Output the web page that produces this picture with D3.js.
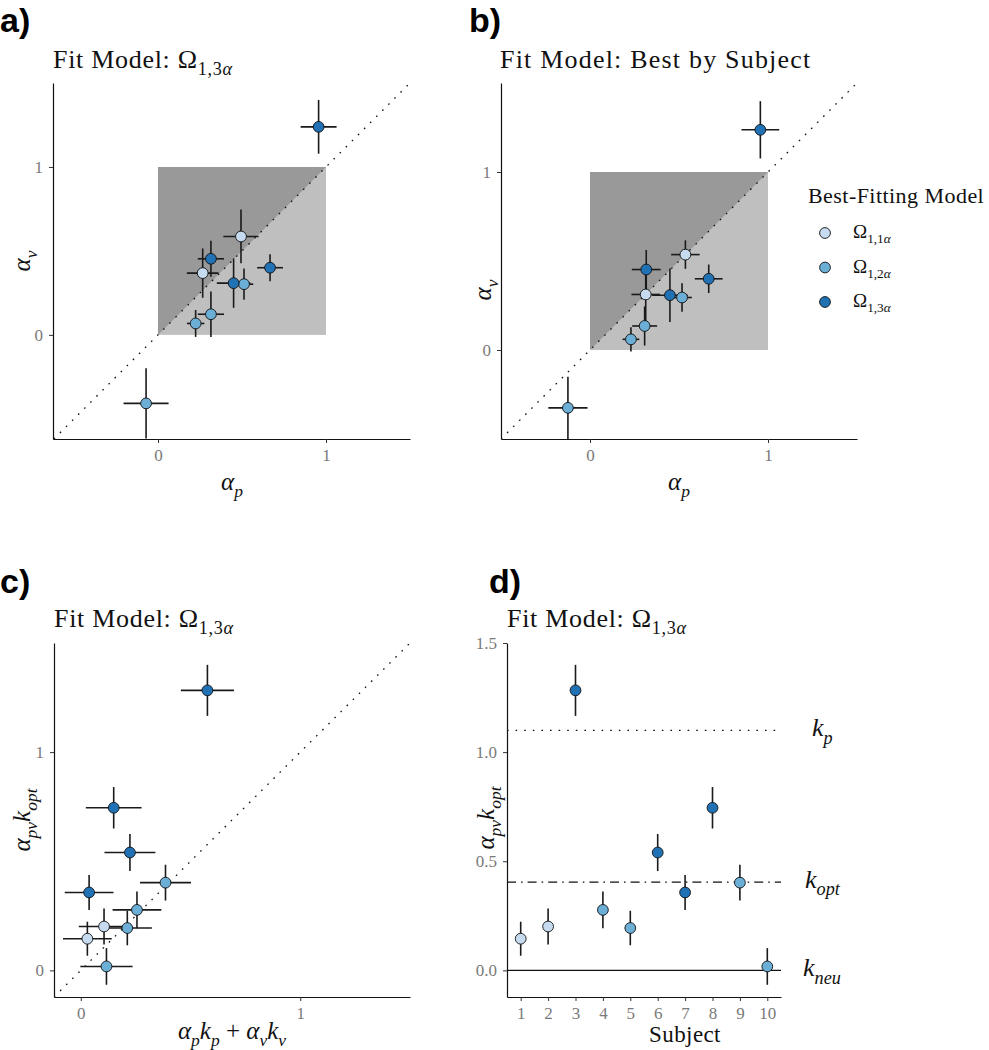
<!DOCTYPE html>
<html><head><meta charset="utf-8">
<script src="https://cdn.jsdelivr.net/npm/d3@7"></script>
<style>body{margin:0;background:#fff} svg{display:block}</style>
</head><body>
<svg id="chart" width="989" height="1050"></svg>
<script>
// ---------------- DATA ----------------
const subjects   = [1, 2, 3, 4, 5, 6, 7, 8, 9, 10];
const bestModel  = [1, 1, 3, 2, 2, 3, 3, 3, 2, 2];          // index into modelLabels (1-based)
const modelLabels = ["1,1", "1,2", "1,3"];
const modelColors = ["#c6dbef", "#6baed6", "#2171b5"];

// panel a: fit model Omega_{1,3alpha}
const aAlphaP    = [0.266, 0.494, 0.956, 0.512, 0.315, 0.315, 0.450, 0.667, 0.224, -0.071];
const aAlphaPErr = [0.094, 0.105, 0.107, 0.055, 0.078, 0.078, 0.100, 0.077, 0.052, 0.134];
const aAlphaV    = [0.368, 0.586, 1.239, 0.302, 0.123, 0.453, 0.308, 0.400, 0.068, -0.408];
const aAlphaVErr = [0.147, 0.160, 0.160, 0.093, 0.135, 0.107, 0.147, 0.080, 0.080, 0.209];

// panel b: best model by subject
const bAlphaP    = [0.313, 0.536, 0.957, 0.517, 0.307, 0.316, 0.449, 0.667, 0.230, -0.124];
const bAlphaPErr = [0.080, 0.080, 0.106, 0.055, 0.070, 0.081, 0.100, 0.078, 0.047, 0.110];
const bAlphaV    = [0.312, 0.536, 1.237, 0.295, 0.135, 0.452, 0.308, 0.400, 0.060, -0.325];
const bAlphaVErr = [0.150, 0.080, 0.161, 0.080, 0.110, 0.110, 0.150, 0.080, 0.068, 0.175];

// panel c / d
const cCombined    = [0.030, 0.106, 0.577, 0.256, 0.212, 0.224, 0.038, 0.150, 0.386, 0.117];
const cCombinedErr = [0.111, 0.115, 0.121, 0.111, 0.112, 0.116, 0.111, 0.127, 0.116, 0.119];
const kOpt         = [0.145, 0.201, 1.283, 0.277, 0.194, 0.540, 0.357, 0.745, 0.402, 0.018];
const kOptErr      = [0.078, 0.082, 0.117, 0.084, 0.079, 0.085, 0.080, 0.095, 0.082, 0.084];

// reference lines in panel d
const refNames  = ["p", "opt", "neu"];
const refValues = [1.1, 0.404, 0];
const refDash   = ["1.6 7", "9 5 1.6 5", null];

// tick labels
const alphaTicks = [0, 1];
const dYTicks    = [0, 0.5, 1.0, 1.5];
const dYTickLabels = ["0.0", "0.5", "1.0", "1.5"];

// ---------------- DRAWING ----------------
const svg = d3.select("#chart");
const SERIF = "'Liberation Serif','Times New Roman',serif";
const TICKCOL = "#7a7a7a";

// math-ish text: parts = [[text, style]] style: n normal, i italic, s sub, si sub italic
function mathText(g, x, y, parts, size, opts = {}) {
  const t = g.append("text").attr("x", x).attr("y", y)
    .attr("font-family", SERIF).attr("font-size", size).attr("fill", opts.fill || "#111")
    .attr("text-anchor", opts.anchor || "start")
    .attr("letter-spacing", opts.ls || 0);
  if (opts.rotate) t.attr("transform", `rotate(-90,${x},${y})`);
  let inSub = false;
  const shift = size * 0.28;
  parts.forEach(([txt, st]) => {
    const sub = st.startsWith("s");
    const it = st.endsWith("i");
    const ts = t.append("tspan").text(txt)
      .attr("font-style", it ? "italic" : "normal")
      .attr("font-size", sub ? size * 0.7 : size);
    if (sub && !inSub) ts.attr("dy", shift);
    if (!sub && inSub) ts.attr("dy", -shift);
    inSub = sub;
  });
  return t;
}

function styleAxis(ax) {
  ax.select(".domain").attr("stroke", "#111").attr("stroke-width", 1.2);
  ax.selectAll(".tick line").attr("stroke", "#333").attr("stroke-width", 1);
  ax.selectAll(".tick text").attr("fill", TICKCOL).attr("font-family", SERIF).attr("font-size", 17);
}

let clipN = 0;
function scatterPanel(cfg) {
  const g = svg.append("g");
  const x = d3.scaleLinear().domain(cfg.xd).range([cfg.x0, cfg.x1]);
  const y = d3.scaleLinear().domain(cfg.yd).range([cfg.y0, cfg.y1]);
  const id = "clip" + (clipN++);
  svg.append("clipPath").attr("id", id).append("rect")
    .attr("x", cfg.x0).attr("y", cfg.y1).attr("width", cfg.x1 - cfg.x0).attr("height", cfg.y0 - cfg.y1);
  const pg = g.append("g").attr("clip-path", `url(#${id})`);

  if (cfg.shade) {
    pg.append("rect").attr("x", x(0)).attr("y", y(1)).attr("width", x(1) - x(0)).attr("height", y(0) - y(1))
      .attr("fill", "#bfbfbf");
    pg.append("path").attr("d", d3.line()([[x(0), y(0)], [x(0), y(1)], [x(1), y(1)]]) + "Z")
      .attr("fill", "#999999");
  }
  if (cfg.diag) {
    const lo = Math.max(cfg.xd[0], cfg.yd[0]), hi = Math.min(cfg.xd[1], cfg.yd[1]);
    pg.append("line").attr("x1", x(lo)).attr("y1", y(lo)).attr("x2", x(hi)).attr("y2", y(hi))
      .attr("stroke", "#111").attr("stroke-width", 1.3).attr("stroke-dasharray", "1.6 7");
  }
  if (cfg.hlines) {
    cfg.hlines.forEach(h => {
      const l = pg.append("line").attr("x1", cfg.x0).attr("x2", cfg.x1)
        .attr("y1", y(h.v)).attr("y2", y(h.v)).attr("stroke", "#111").attr("stroke-width", 1.3);
      if (h.dash) l.attr("stroke-dasharray", h.dash);
    });
  }
  const pts = cfg.data;
  pts.forEach(d => {
    if (d.xe != null) pg.append("line").attr("x1", x(d.x - d.xe)).attr("x2", x(d.x + d.xe))
      .attr("y1", y(d.y)).attr("y2", y(d.y)).attr("stroke", "#1a1a1a").attr("stroke-width", 1.6);
    pg.append("line").attr("x1", x(d.x)).attr("x2", x(d.x))
      .attr("y1", y(d.y - d.ye)).attr("y2", y(d.y + d.ye)).attr("stroke", "#1a1a1a").attr("stroke-width", 1.6);
  });
  pts.forEach(d => {
    pg.append("circle").attr("cx", x(d.x)).attr("cy", y(d.y)).attr("r", 5.4)
      .attr("fill", modelColors[d.m - 1]).attr("stroke", "#111").attr("stroke-width", 0.9);
  });

  const xa = g.append("g").attr("transform", `translate(0,${cfg.y0})`)
    .call(d3.axisBottom(x).tickValues(cfg.xt).tickFormat(cfg.xf || d3.format("d")).tickSize(4).tickPadding(6).tickSizeOuter(0));
  const ya = g.append("g").attr("transform", `translate(${cfg.x0},0)`)
    .call(d3.axisLeft(y).tickValues(cfg.yt).tickFormat(cfg.yf || d3.format("d")).tickSize(4).tickPadding(6).tickSizeOuter(0));
  styleAxis(xa); styleAxis(ya);
  return {x, y, g};
}

const mk = (xs, xes, ys, yes) => subjects.map((s, i) => ({s, x: xs[i], xe: xes ? xes[i] : null, y: ys[i], ye: yes[i], m: bestModel[i]}));

// panel labels
[["a)", 0, 32], ["b)", 469, 32], ["c)", 0, 593], ["d)", 489, 593]].forEach(([t, x, y]) =>
  svg.append("text").attr("x", x).attr("y", y).text(t)
    .attr("font-family", "'Liberation Sans',Arial,sans-serif").attr("font-weight", "bold").attr("font-size", 34).attr("fill", "#000"));

const titleParts = [["Fit Model: ", "n"], ["Ω", "n"], ["1,3", "s"], ["α", "si"]];

// ---- Panel a
scatterPanel({xd: [-0.625, 1.5], yd: [-0.62, 1.5], x0: 53, x1: 410, y0: 439, y1: 83,
  shade: true, diag: true, xt: alphaTicks, yt: alphaTicks, data: mk(aAlphaP, aAlphaPErr, aAlphaV, aAlphaVErr)});
mathText(svg, 53, 68, titleParts, 26, {ls: 0.7});
mathText(svg, 232, 490, [["α", "i"], ["p", "si"]], 25, {anchor: "middle"});
mathText(svg, 30, 261, [["α", "i"], ["v", "si"]], 25, {anchor: "middle", rotate: true});

// ---- Panel b
scatterPanel({xd: [-0.5, 1.5], yd: [-0.5, 1.5], x0: 501, x1: 857, y0: 439, y1: 83,
  shade: true, diag: true, xt: alphaTicks, yt: alphaTicks, data: mk(bAlphaP, bAlphaPErr, bAlphaV, bAlphaVErr)});
mathText(svg, 500, 68, [["Fit Model: Best by Subject", "n"]], 26, {ls: 1.2});
mathText(svg, 679, 490, [["α", "i"], ["p", "si"]], 25, {anchor: "middle"});
mathText(svg, 491, 290, [["α", "i"], ["v", "si"]], 25, {anchor: "middle", rotate: true});

// legend
mathText(svg, 808, 203, [["Best-Fitting Model", "n"]], 22, {ls: 0.45});
modelLabels.forEach((lab, i) => {
  const cy = 233 + i * 34.5;
  svg.append("circle").attr("cx", 825).attr("cy", cy).attr("r", 5.4)
    .attr("fill", modelColors[i]).attr("stroke", "#111").attr("stroke-width", 0.9);
  mathText(svg, 853, cy + 5, [["Ω", "n"], [lab, "s"], ["α", "si"]], 19);
});

// ---- Panel c
scatterPanel({xd: [-0.122, 1.5], yd: [-0.122, 1.5], x0: 54, x1: 410, y0: 997, y1: 643,
  shade: false, diag: true, xt: alphaTicks, yt: alphaTicks, data: mk(cCombined, cCombinedErr, kOpt, kOptErr)});
mathText(svg, 54, 627, titleParts, 26, {ls: 0.7});
mathText(svg, 232, 1039, [["α", "i"], ["p", "si"], ["k", "i"], ["p", "si"], [" + ", "n"], ["α", "i"], ["v", "si"], ["k", "i"], ["v", "si"]], 25, {anchor: "middle"});
mathText(svg, 30, 820, [["α", "i"], ["pv", "si"], ["k", "i"], ["opt", "si"]], 25, {anchor: "middle", rotate: true});

// ---- Panel d
const pd = scatterPanel({xd: [0.5, 10.5], yd: [-0.122, 1.5], x0: 507, x1: 781, y0: 997, y1: 643,
  shade: false, diag: false, xt: subjects, yt: dYTicks, yf: (d, i) => dYTickLabels[i],
  hlines: refValues.map((v, i) => ({v, dash: refDash[i]})),
  data: mk(subjects, null, kOpt, kOptErr)});
mathText(svg, 507, 627, titleParts, 26, {ls: 0.7});
mathText(svg, 685, 1042, [["Subject", "n"]], 23, {anchor: "middle", ls: 0.4});
mathText(svg, 494, 818, [["α", "i"], ["pv", "si"], ["k", "i"], ["opt", "si"]], 25, {anchor: "middle", rotate: true});
const refLabelX = [812, 805, 803];
refNames.forEach((n, i) => {
  mathText(svg, refLabelX[i], pd.y(refValues[i]) + 6, [["k", "i"], [n, "si"]], 26);
});
</script>
</body></html>
